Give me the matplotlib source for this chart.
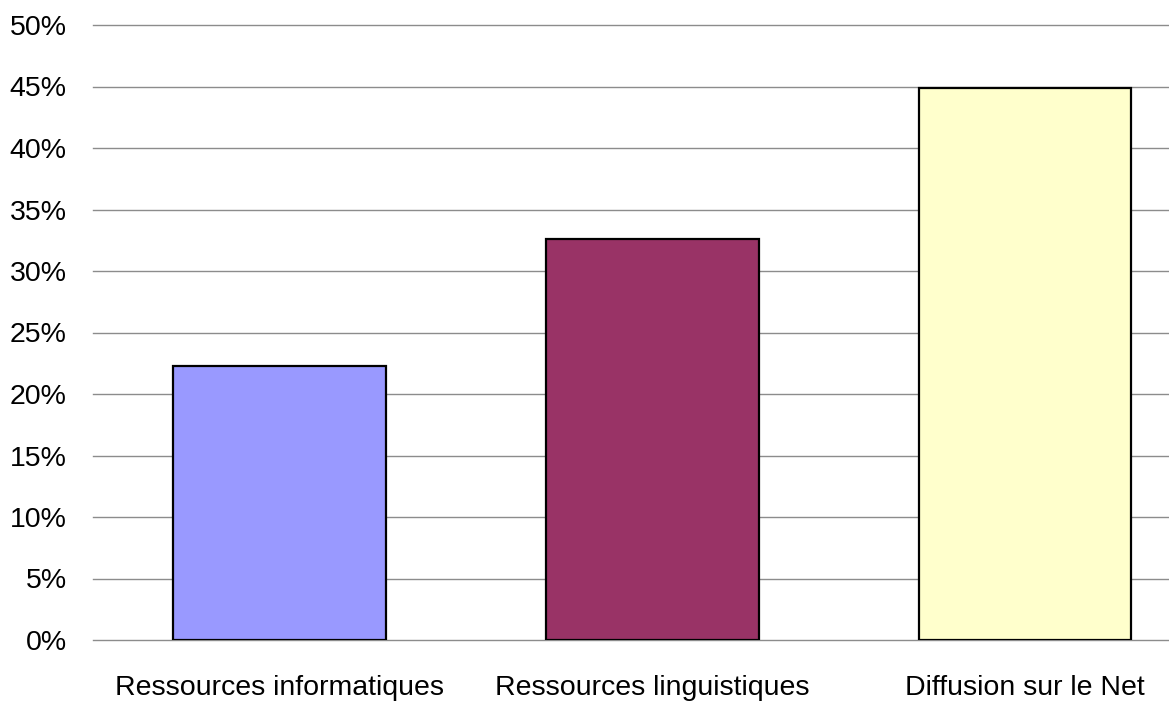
import matplotlib
matplotlib.use("Agg")
import matplotlib.pyplot as plt
from matplotlib.ticker import FuncFormatter

categories = ["Ressources informatiques", "Ressources linguistiques", "Diffusion sur le Net"]
values = [22.3, 32.6, 44.9]
colors = ["#9999FF", "#993366", "#FFFFCC"]
yticks = [0, 5, 10, 15, 20, 25, 30, 35, 40, 45, 50]

plt.rcParams['font.family'] = ['Liberation Sans', 'DejaVu Sans']

fig = plt.figure(figsize=(11.69, 7.04), dpi=100)
# plot area runs past the right edge of the picture (cropped original)
ax = fig.add_axes([93/1169, 1 - 640/704, (1211.5 - 93)/1169, (640 - 25)/704])

x = list(range(len(categories)))
ax.bar(x, values, width=0.57, color=colors, edgecolor="black", linewidth=1.6, zorder=3)

ax.set_xlim(-0.5, 2.5)
ax.set_ylim(0, 50)
ax.set_yticks(yticks)
ax.yaxis.set_major_formatter(FuncFormatter(lambda v, p: f"{v:.0f}%"))
ax.set_xticks(x)
ax.set_xticklabels(categories)
ax.yaxis.grid(True, color="#8c8c8c", linewidth=1.0, zorder=0)
for gl in ax.get_ygridlines():
    gl.set_clip_on(False)
ax.set_axisbelow(True)
for s in ax.spines.values():
    s.set_visible(False)
ax.tick_params(axis="both", length=0, labelsize=20.5)
ax.tick_params(axis="y", pad=19)
ax.tick_params(axis="x", pad=25)

fig.savefig("out.png", dpi=100)
